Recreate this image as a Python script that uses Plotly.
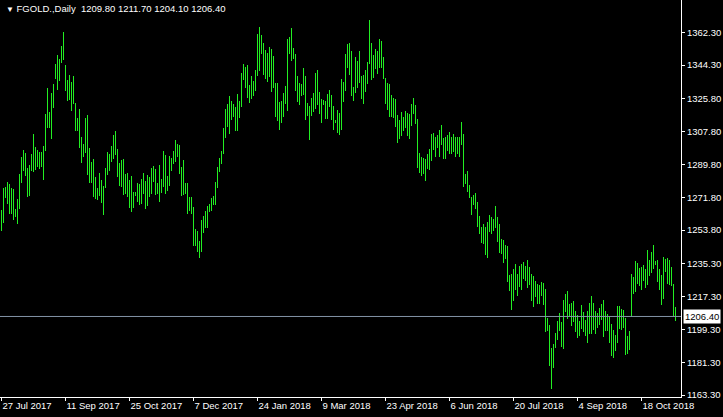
import plotly.graph_objects as go

symbol = "FGOLD.,Daily"

# bar index labels on the time axis (every 32 bars)
date_tick_index = [0, 32, 64, 96, 128, 160, 192, 224, 256, 288, 320]
date_tick_labels = ["27 Jul 2017", "11 Sep 2017", "25 Oct 2017", "7 Dec 2017", "24 Jan 2018",
                    "9 Mar 2018", "23 Apr 2018", "6 Jun 2018", "20 Jul 2018", "4 Sep 2018", "18 Oct 2018"]

price_ticks = [1362.30, 1344.30, 1325.80, 1307.80, 1289.80, 1271.80, 1253.80,
               1235.30, 1217.30, 1199.30, 1181.30, 1163.30]

highs = [
    1264.8, 1276.9, 1277.6, 1280.2, 1279.1, 1276.9, 1276.2, 1265.5, 1270.9, 1284.6,
    1293.9, 1297.7, 1296.1, 1287.7, 1289.5, 1295.5, 1306.5, 1299.4, 1297.7, 1296.6,
    1296.6, 1299.9, 1317.5, 1331.7, 1318.6, 1329.0, 1333.9, 1344.9, 1349.9, 1347.7,
    1354.8, 1362.5, 1344.5, 1336.1, 1338.9, 1335.0, 1338.3, 1323.5, 1315.5, 1320.2,
    1304.9, 1301.2, 1315.5, 1316.9, 1299.0, 1291.2, 1292.8, 1283.1, 1277.0, 1285.1,
    1281.3, 1278.0, 1287.9, 1296.6, 1295.5, 1299.9, 1306.0, 1308.2, 1298.3, 1290.6,
    1292.2, 1292.8, 1284.6, 1285.1, 1281.3, 1283.5, 1274.7, 1274.7, 1279.6, 1279.1,
    1281.8, 1285.1, 1280.7, 1284.0, 1282.9, 1287.9, 1289.0, 1287.3, 1279.6, 1289.5,
    1281.8, 1297.2, 1295.0, 1283.5, 1294.4, 1293.3, 1297.2, 1303.2, 1301.0, 1300.5,
    1288.4, 1292.2, 1279.6, 1279.6, 1272.0, 1272.0, 1266.5, 1254.4, 1253.3, 1247.8,
    1259.3, 1261.5, 1264.3, 1267.0, 1268.1, 1271.4, 1272.5, 1280.2, 1288.4, 1293.3,
    1297.2, 1309.8, 1320.2, 1323.0, 1327.4, 1324.6, 1323.0, 1321.3, 1328.5, 1324.6,
    1340.0, 1344.9, 1343.3, 1344.4, 1333.4, 1338.3, 1335.6, 1341.6, 1361.4, 1365.2,
    1360.8, 1356.4, 1352.8, 1351.1, 1354.2, 1353.1, 1349.3, 1334.5, 1334.5, 1324.1,
    1324.6, 1329.2, 1332.8, 1358.6, 1359.7, 1364.7, 1353.7, 1350.4, 1338.3, 1334.5,
    1333.9, 1342.7, 1338.3, 1323.7, 1322.0, 1326.3, 1329.2, 1340.0, 1341.6, 1329.6,
    1325.7, 1325.2, 1324.6, 1328.5, 1330.6, 1327.9, 1321.9, 1314.2, 1319.7, 1318.2,
    1336.7, 1335.0, 1350.4, 1355.9, 1356.4, 1352.0, 1332.3, 1348.8, 1346.6, 1352.0,
    1338.3, 1338.9, 1341.6, 1346.0, 1369.1, 1356.4, 1349.9, 1353.1, 1352.0, 1358.6,
    1357.5, 1348.8, 1337.4, 1334.5, 1333.9, 1327.9, 1326.4, 1325.7, 1317.1, 1314.4,
    1318.7, 1316.0, 1319.1, 1318.2, 1317.6, 1323.1, 1326.4, 1322.6, 1314.9, 1296.3,
    1294.1, 1293.2, 1292.8, 1295.4, 1298.4, 1306.7, 1307.2, 1305.0, 1306.1, 1308.9,
    1311.6, 1304.5, 1305.0, 1306.1, 1307.8, 1304.9, 1306.7, 1305.0, 1304.9, 1304.9,
    1313.1, 1306.7, 1284.7, 1286.4, 1278.7, 1272.1, 1273.0, 1274.1, 1269.2, 1261.5,
    1255.7, 1257.1, 1255.7, 1258.4, 1262.1, 1261.0, 1260.0, 1267.0, 1261.0, 1257.1,
    1248.9, 1248.4, 1245.6, 1245.1, 1229.3, 1229.9, 1232.6, 1235.2, 1229.9, 1234.3,
    1235.2, 1236.3, 1234.3, 1237.6, 1233.5, 1229.7, 1228.8, 1226.0, 1224.4, 1223.5,
    1225.3, 1224.8, 1221.5, 1205.6, 1201.7, 1189.1, 1191.3, 1197.3, 1203.9, 1208.3,
    1203.4, 1215.4, 1218.7, 1220.4, 1213.3, 1213.8, 1214.9, 1209.4, 1207.2, 1203.9,
    1212.7, 1208.9, 1204.5, 1209.4, 1213.8, 1217.6, 1213.8, 1209.4, 1208.3, 1211.1,
    1213.3, 1215.4, 1209.4, 1207.8, 1206.7, 1202.3, 1199.2, 1196.4, 1212.2, 1212.2,
    1210.5, 1210.0, 1205.7, 1195.9, 1198.6, 1229.7, 1228.1, 1236.8, 1235.7, 1233.0,
    1233.5, 1234.6, 1232.4, 1242.9, 1237.4, 1241.8, 1245.6, 1236.8, 1237.4, 1232.6,
    1229.3, 1239.0, 1237.9, 1238.5, 1237.4, 1233.5, 1224.1, 1211.7,
]

lows = [
    1253.5, 1257.8, 1271.4, 1268.3, 1262.8, 1262.6, 1259.5, 1261.1, 1257.0, 1265.5,
    1279.8, 1286.4, 1283.6, 1272.1, 1272.7, 1286.4, 1285.8, 1286.9, 1288.6, 1287.5,
    1288.6, 1281.4, 1297.0, 1310.0, 1309.8, 1303.6, 1320.8, 1336.9, 1330.8, 1335.8,
    1345.6, 1347.3, 1330.3, 1324.8, 1325.0, 1319.3, 1323.1, 1308.0, 1308.3, 1299.0,
    1290.8, 1293.9, 1296.3, 1283.9, 1279.8, 1279.8, 1272.1, 1270.7, 1270.3, 1272.5,
    1268.8, 1262.2, 1277.0, 1283.9, 1286.4, 1291.3, 1293.0, 1295.0, 1283.1, 1278.1,
    1277.4, 1273.2, 1273.8, 1272.1, 1266.1, 1263.9, 1266.1, 1272.7, 1269.4, 1267.7,
    1268.3, 1273.8, 1265.5, 1267.2, 1272.1, 1273.8, 1280.2, 1273.2, 1273.8, 1269.4,
    1274.3, 1277.6, 1273.8, 1275.4, 1278.1, 1286.2, 1289.9, 1291.3, 1294.1, 1284.7,
    1272.7, 1273.2, 1273.8, 1262.8, 1264.4, 1262.6, 1245.2, 1245.2, 1241.9, 1238.3,
    1241.9, 1252.4, 1255.1, 1255.1, 1263.9, 1264.3, 1267.7, 1267.7, 1277.0, 1285.8,
    1290.2, 1295.5, 1304.5, 1310.5, 1306.7, 1314.4, 1316.0, 1308.3, 1308.3, 1315.5,
    1321.5, 1336.3, 1331.9, 1326.4, 1323.7, 1325.9, 1327.5, 1330.3, 1338.5, 1341.2,
    1350.6, 1339.0, 1336.9, 1335.2, 1337.9, 1329.7, 1331.6, 1316.0, 1313.8, 1308.9,
    1312.7, 1316.0, 1323.1, 1319.3, 1350.6, 1346.7, 1347.8, 1330.3, 1324.2, 1322.6,
    1327.5, 1328.1, 1314.4, 1316.5, 1303.4, 1316.5, 1318.7, 1320.4, 1322.6, 1317.6,
    1312.7, 1322.6, 1314.9, 1314.9, 1321.5, 1314.4, 1308.9, 1312.7, 1307.2, 1306.1,
    1308.9, 1324.2, 1330.3, 1342.9, 1339.0, 1327.5, 1324.8, 1329.2, 1331.9, 1334.5,
    1325.9, 1323.1, 1329.7, 1334.1, 1345.1, 1336.3, 1337.4, 1342.2, 1339.6, 1342.9,
    1342.9, 1336.9, 1323.1, 1319.8, 1316.0, 1316.0, 1315.5, 1310.5, 1301.7, 1303.9,
    1305.6, 1308.3, 1310.0, 1305.6, 1303.9, 1311.1, 1317.5, 1312.2, 1288.0, 1285.3,
    1283.6, 1284.7, 1280.9, 1287.1, 1286.9, 1291.9, 1297.9, 1294.1, 1299.0, 1294.1,
    1300.6, 1293.0, 1293.0, 1297.4, 1295.7, 1295.7, 1296.8, 1294.1, 1295.7, 1294.1,
    1300.6, 1277.6, 1279.2, 1274.9, 1271.6, 1262.2, 1267.7, 1265.5, 1255.7, 1251.8,
    1246.9, 1246.3, 1240.3, 1238.6, 1252.9, 1251.8, 1253.5, 1255.1, 1247.4, 1241.4,
    1240.8, 1235.9, 1238.1, 1225.5, 1220.5, 1210.1, 1215.1, 1221.1, 1217.8, 1222.7,
    1221.1, 1227.1, 1225.9, 1222.2, 1223.7, 1215.1, 1211.8, 1217.3, 1213.4, 1213.4,
    1217.8, 1212.9, 1198.1, 1198.6, 1179.4, 1166.8, 1178.3, 1189.3, 1193.7, 1198.6,
    1189.8, 1188.7, 1208.9, 1205.2, 1206.7, 1201.3, 1203.5, 1198.1, 1194.8, 1195.9,
    1199.7, 1198.1, 1195.9, 1192.0, 1197.0, 1197.0, 1199.2, 1197.0, 1200.2, 1201.9,
    1204.5, 1195.3, 1198.6, 1198.6, 1192.0, 1184.9, 1183.8, 1187.6, 1192.0, 1199.7,
    1199.2, 1200.2, 1185.4, 1186.0, 1188.2, 1206.3, 1218.9, 1220.0, 1224.4, 1223.3,
    1221.1, 1226.0, 1222.2, 1223.8, 1228.8, 1230.4, 1232.6, 1234.8, 1225.5, 1221.1,
    1212.9, 1216.2, 1231.0, 1224.2, 1223.8, 1223.3, 1206.3, 1204.1,
]

last_open = 1209.80
last_close = 1206.40

bar_color = "#22ee22"
text_color = "#ffffff"
font_family = "Liberation Sans, Arial, sans-serif"
fs = 9.5

idx = list(range(len(highs)))
ranges = [h - l for h, l in zip(highs, lows)]

fig = go.Figure()
fig.add_trace(go.Bar(
    x=idx, y=ranges, base=lows, width=0.5,
    marker=dict(color=bar_color, line=dict(width=0)),
    hoverinfo="skip", showlegend=False,
))

# current price line
fig.add_shape(type="line", xref="paper", x0=0, x1=1, yref="y", y0=last_close, y1=last_close,
              line=dict(color="#8394a6", width=1))

# price tag on the axis
fig.add_annotation(xref="paper", x=1, xanchor="left", xshift=2, yref="y", y=last_close,
                   text=f"{last_close:.2f}", showarrow=False, bgcolor="#ffffff",
                   font=dict(color="#000000", size=fs, family=font_family), borderpad=1)

# header
title = (f"<span style='font-size:8px'>\u25BC</span>\u00a0{symbol}\u00a0\u00a0"
         f"{last_open:.2f} {highs[-1]:.2f} {lows[-1]:.2f} {last_close:.2f}")
fig.add_annotation(xref="paper", yref="paper", x=0, y=1, xanchor="left", yanchor="top",
                   xshift=4, yshift=-1, text=title, showarrow=False,
                   font=dict(color=text_color, size=fs, family=font_family))

fig.update_layout(
    width=723, height=417,
    margin=dict(l=0, r=42, t=0, b=20),
    paper_bgcolor="#000000", plot_bgcolor="#000000",
    font=dict(family=font_family, size=fs, color=text_color),
    bargap=0,
    xaxis=dict(range=[-0.75, 339.75], tickmode="array", tickvals=date_tick_index,
               ticktext=date_tick_labels, showgrid=False, zeroline=False,
               showline=True, linecolor="#ffffff", linewidth=1,
               ticks="outside", ticklen=3, tickcolor="#ffffff",
               ticklabelposition="outside right", tickfont=dict(size=fs, color=text_color)),
    yaxis=dict(side="right", range=[1162.23, 1380.02], tickmode="array", tickvals=price_ticks,
               ticktext=[f"{v:.2f}" for v in price_ticks], showgrid=False, zeroline=False,
               showline=True, linecolor="#ffffff", linewidth=1,
               ticks="outside", ticklen=3, tickcolor="#ffffff",
               tickfont=dict(size=fs, color=text_color)),
)

fig.write_html("out.html", config={"displayModeBar": False},
               post_script="document.body.style.margin='0';document.body.style.background='#000';")
